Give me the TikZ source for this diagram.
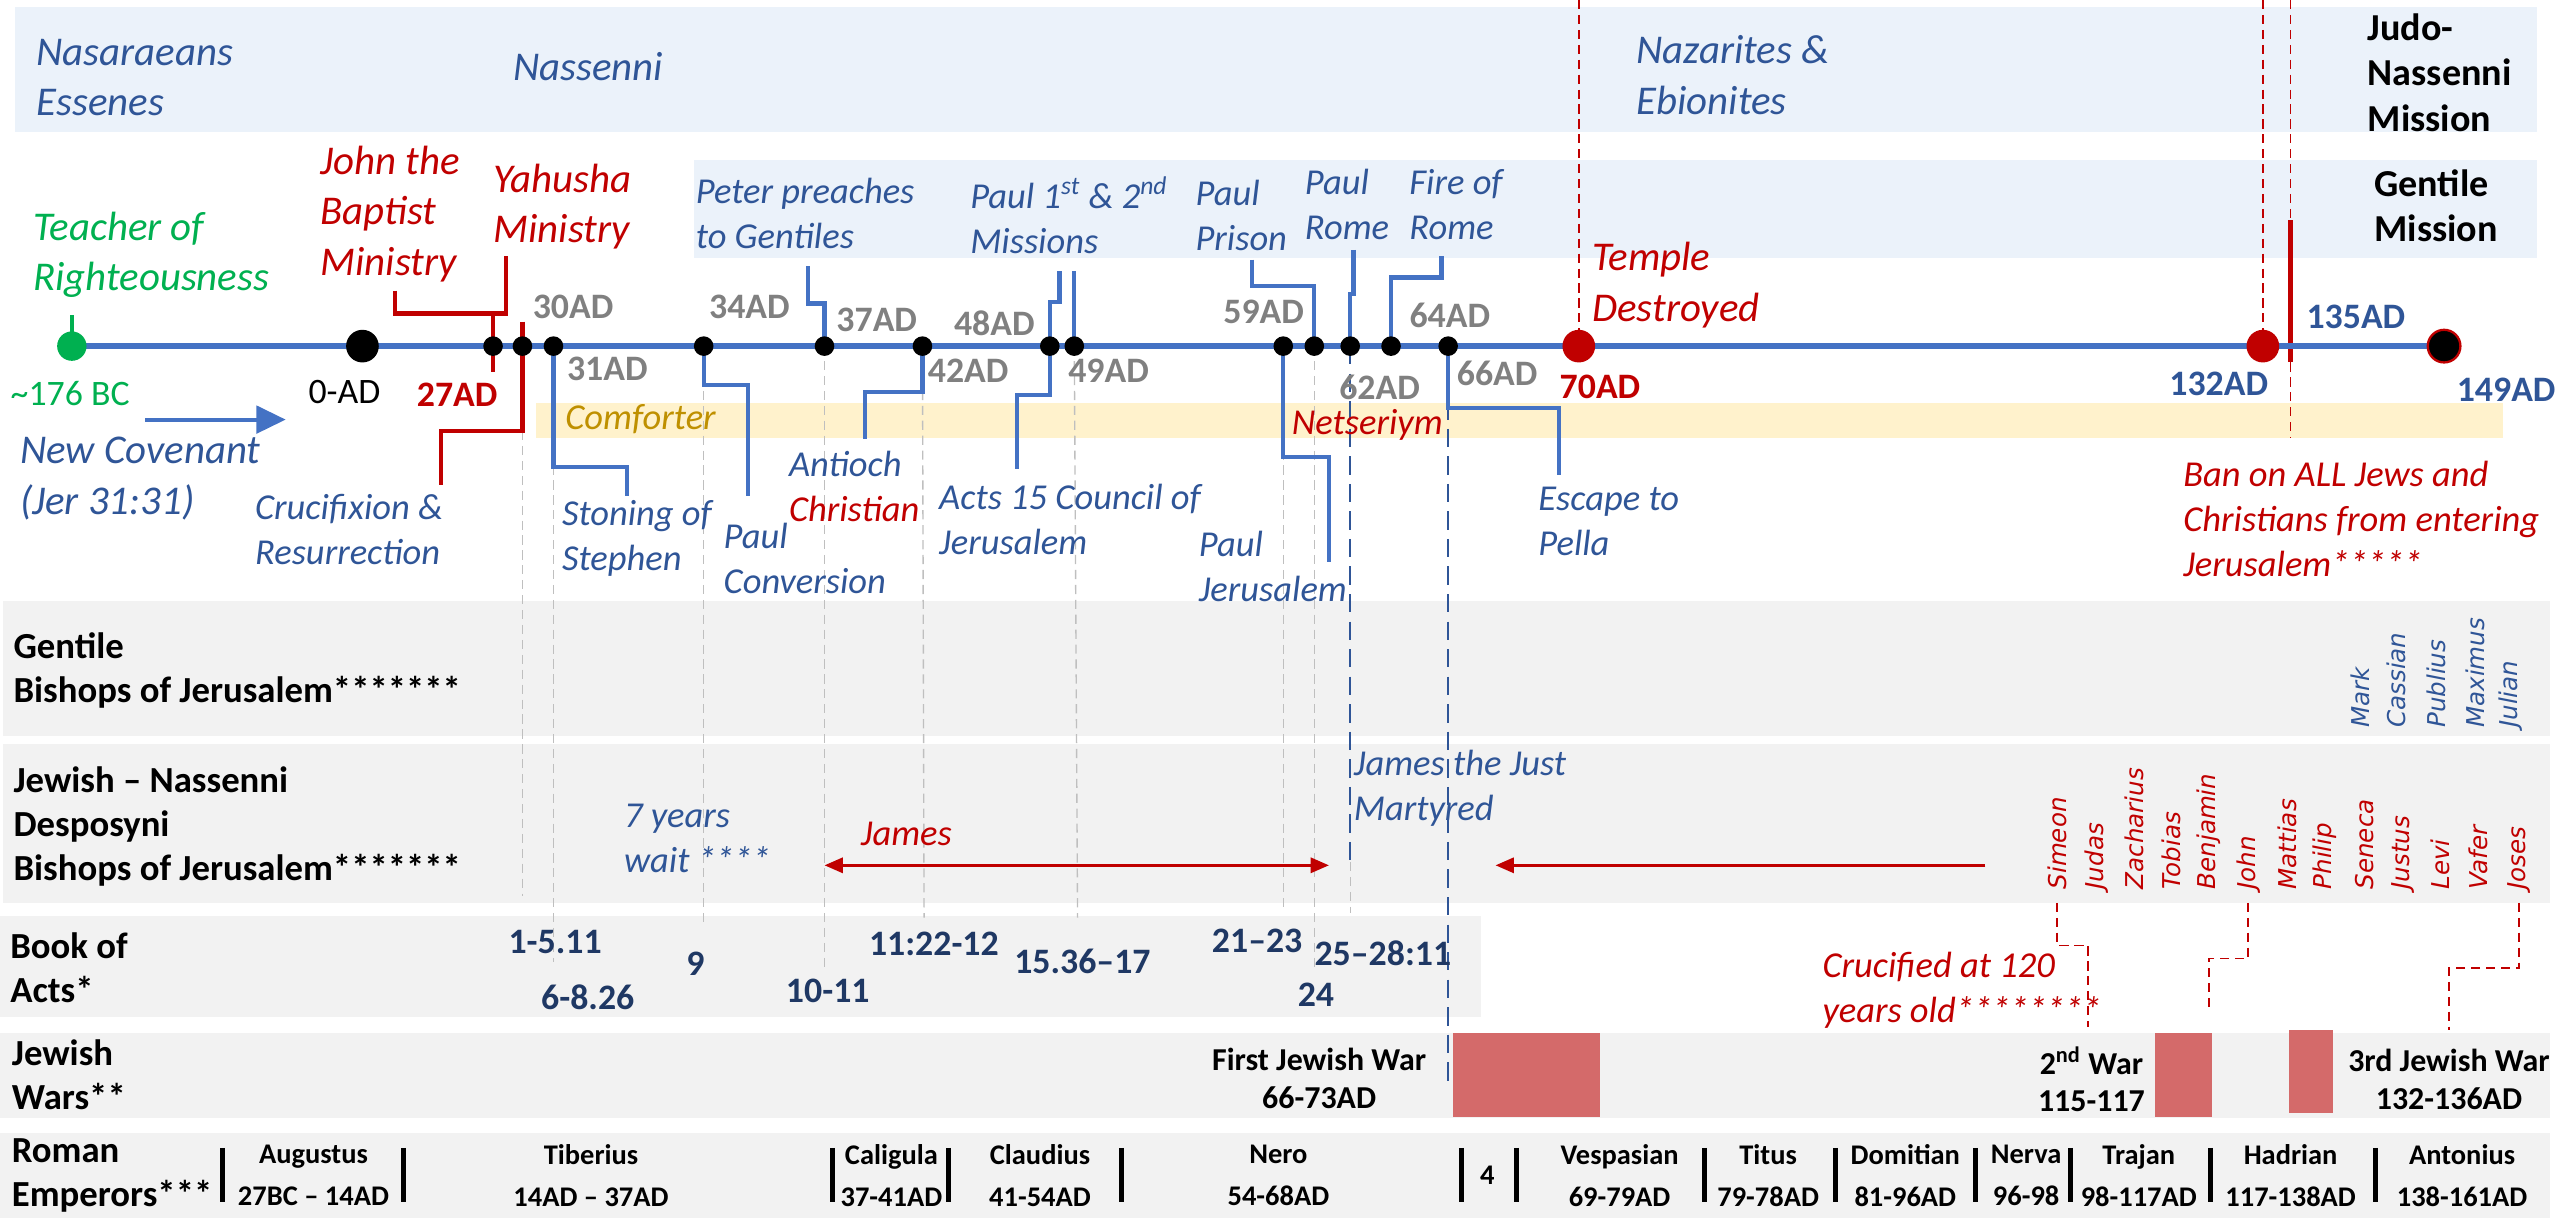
\documentclass[tikz,border=0pt]{standalone}
\usepackage{fontspec}
\setmainfont{Carlito}
\newfontfamily\namefont{DejaVu Sans}
\usetikzlibrary{arrows.meta}

\definecolor{tlblue}{HTML}{4472C4}
\definecolor{txblue}{HTML}{2F5597}
\definecolor{myred}{HTML}{C00000}
\definecolor{mygreen}{HTML}{00B050}
\definecolor{lblgray}{HTML}{808080}
\definecolor{bandblue}{HTML}{EBF2FA}
\definecolor{comfband}{HTML}{FFF2CC}
\definecolor{comftxt}{HTML}{BF9000}
\definecolor{rowgray}{HTML}{F2F2F2}
\definecolor{warred}{HTML}{D46A6A}
\definecolor{actsblue}{HTML}{1F3864}
\definecolor{dashgray}{HTML}{BFBFBF}

\newcommand\fntbig{\fontsize{17.8pt}{22pt}\selectfont\itshape}
\newcommand\fntmid{\fontsize{15.9pt}{19.6pt}\selectfont\itshape}
\newcommand\fntdot{\fontsize{15.6pt}{18pt}\selectfont\bfseries}
\newcommand\fntdotr{\fontsize{15.6pt}{18pt}\selectfont}
\newcommand\fntrow{\fontsize{16pt}{19.2pt}\selectfont\bfseries}
\newcommand\fntmiss{\fontsize{16.6pt}{19.7pt}\selectfont\bfseries}
\newcommand\fntwar{\fontsize{13.9pt}{16.4pt}\selectfont\bfseries}
\newcommand\fntemp{\fontsize{12.4pt}{18.5pt}\selectfont\bfseries}
\newcommand\fntname{\namefont\itshape\fontsize{10.7pt}{13pt}\selectfont}

\begin{document}
\begin{tikzpicture}[x=0.25mm, y=-0.25mm,
  txt/.style={inner sep=0pt, align=left, anchor=west},
  ctr/.style={inner sep=0pt, align=center},
  tdot/.style={circle, fill=black, minimum size=3mm, inner sep=0pt},
  bigdot/.style={circle, fill=#1, minimum size=5mm, inner sep=0pt},
  dlbl/.style={inner sep=0pt, font=\fntdot, text=lblgray},
  conn/.style={draw=tlblue, line width=1.9pt},
  redconn/.style={draw=myred, line width=1.9pt},
  gdash/.style={draw=dashgray, line width=0.6pt, dash pattern=on 4pt off 2.5pt},
  rdash/.style={draw=myred, line width=0.7pt, dash pattern=on 4pt off 2.5pt},
  bdash/.style={draw=txblue, line width=1pt, dash pattern=on 8pt off 4pt},
  redarrow/.style={draw=myred, line width=1.3pt},
  empsep/.style={draw=black, line width=2.2pt},
  bname/.style={inner sep=0pt, anchor=west, rotate=90, font=\fntname}]

\useasboundingbox (0,0) rectangle (1568,746);

% bands
\fill[bandblue] (9,4.5) rectangle (1554,81);
\fill[bandblue] (425,98) rectangle (1554,158);
\fill[comfband] (328,247) rectangle (1533,268);
\fill[rowgray] (2,368) rectangle (1562,451);
\fill[rowgray] (2,456) rectangle (1562,553);
\fill[rowgray] (0,561) rectangle (907,623);
\fill[rowgray] (0,633) rectangle (1562,685);
\fill[rowgray] (0,694) rectangle (1562,746);

% timeline points
\coordinate (pBC) at (44,212);
\coordinate (p0) at (222,212);
\coordinate (p27) at (302,212);
\coordinate (p30) at (320,212);
\coordinate (p31) at (339,212);
\coordinate (p34) at (431,212);
\coordinate (p37) at (505,212);
\coordinate (p42) at (565,212);
\coordinate (p48) at (643,212);
\coordinate (p49) at (658,212);
\coordinate (p59) at (786,212);
\coordinate (p60) at (805,212);
\coordinate (p62) at (827,212);
\coordinate (p63) at (852,212);
\coordinate (p64) at (887,212);
\coordinate (p70) at (967,212);
\coordinate (p132) at (1386,212);
\coordinate (p149) at (1497,212);

% guides
\coordinate (g30a) at (320,264);
\coordinate (g30) at (320,549);
\coordinate (g31) at (339,589);
\coordinate (g34) at (431,568);
\coordinate (g37) at (505,593);
\coordinate (g42) at (566,562);
\coordinate (g49) at (660,562);
\coordinate (g59) at (786,559);
\coordinate (g60) at (805,593);
\coordinate (g62a) at (827,528);
\coordinate (g62) at (827,559);
\coordinate (g64) at (887,666);
\draw[gdash] (g30a) -- (g30);
\draw[gdash] (p31) -- (g31);
\draw[gdash] (p34) -- (g34);
\draw[gdash] (p37) -- (g37);
\draw[gdash] (p42) -- (g42);
\draw[gdash] (p49) -- (g49);
\draw[gdash] (p59) -- (g59);
\draw[gdash] (p60) -- (g60);
\draw[gdash] (g62a) -- (g62);
\draw[bdash] (p62) -- (g62a);
\draw[bdash] (p64) -- (g64);

\coordinate (r70) at (967,0);
\coordinate (r132) at (1386,0);
\coordinate (r135a) at (1403,0);
\coordinate (r135b) at (1403,135);
\coordinate (r135c) at (1403,222);
\coordinate (r135d) at (1403,268);
\draw[rdash] (r70) -- (p70);
\draw[rdash] (r132) -- (p132);
\draw[rdash] (r135a) -- (r135b);
\draw[myred, line width=2.2pt] (r135b) -- (r135c);
\draw[rdash] (r135c) -- (r135d);

% timeline
\draw[tlblue, line width=2.6pt] (pBC) -- (p149);

% red connectors
\coordinate (jb) at (242,178);
\coordinate (ym) at (310,157);
\coordinate (jy) at (310,192);
\coordinate (r27) at (302,228);
\coordinate (cr0) at (320,197);
\coordinate (cr1) at (270,264);
\coordinate (cr2) at (270,297);
\draw[redconn] (jb) |- (jy) -- (ym);
\draw[redconn] (p27 |- jy) -- (r27);
\draw[redconn] (cr0) |- (cr1) -- (cr2);

% blue connectors
\coordinate (pp0) at (495,163);
\coordinate (pp1) at (505,186);
\coordinate (st1) at (384,286);
\coordinate (st2) at (384,304);
\coordinate (cv1) at (458,236);
\coordinate (cv2) at (458,304);
\coordinate (an1) at (530,240);
\coordinate (an2) at (530,269);
\coordinate (ac1) at (623,242);
\coordinate (ac2) at (623,287);
\coordinate (mi1) at (649,166);
\coordinate (mi2) at (643,185);
\coordinate (mi3) at (658,166);
\coordinate (pr1) at (767,159);
\coordinate (pr2) at (805,175);
\coordinate (pj1) at (814,280);
\coordinate (pj2) at (814,344);
\coordinate (ro1) at (829,153);
\coordinate (ro2) at (827,180);
\coordinate (fi1) at (883,157);
\coordinate (fi2) at (852,170);
\coordinate (pe1) at (955,250);
\coordinate (pe2) at (955,291);
\draw[conn] (pp0) |- (pp1) -- (p37);
\draw[conn] (p31) |- (st1) -- (st2);
\draw[conn] (p34) |- (cv1) -- (cv2);
\draw[conn] (p42) |- (an1) -- (an2);
\draw[conn] (p48) |- (ac1) -- (ac2);
\draw[conn] (mi1) |- (mi2) -- (p48);
\draw[conn] (mi3) -- (p49);
\draw[conn] (pr1) |- (pr2) -- (p60);
\draw[conn] (p59) |- (pj1) -- (pj2);
\draw[conn] (ro1) |- (ro2) -- (p62);
\draw[conn] (fi1) |- (fi2) -- (p63);
\draw[conn] (p64) |- (pe1) -- (pe2);

% dots
\draw[mygreen, line width=2pt] (pBC) -- ++(0,-19);
\node[bigdot=mygreen, minimum size=4.5mm] (dBC) at (pBC) {};
\node[bigdot=black] (d0) at (p0) {};
\node[tdot] (d27) at (p27) {};
\node[tdot] (d30) at (p30) {};
\node[tdot] (d31) at (p31) {};
\node[tdot] (d34) at (p34) {};
\node[tdot] (d37) at (p37) {};
\node[tdot] (d42) at (p42) {};
\node[tdot] (d48) at (p48) {};
\node[tdot] (d49) at (p49) {};
\node[tdot] (d59) at (p59) {};
\node[tdot] (d60) at (p60) {};
\node[tdot] (d62) at (p62) {};
\node[tdot] (d63) at (p63) {};
\node[tdot] (d64) at (p64) {};
\node[bigdot=myred] (d70) at (p70) {};
\node[bigdot=myred] (d132) at (p132) {};
\node[bigdot=black, draw=myred, line width=1pt] (d149) at (p149) {};

% dates
\node[dlbl] (l30) at (351,188) {30AD};
\node[dlbl] (l31) at (372,226) {31AD};
\node[dlbl] (l34) at (459,188) {34AD};
\node[dlbl] (l37) at (537,196) {37AD};
\node[dlbl] (l42) at (593,227) {42AD};
\node[dlbl] (l48) at (609,198) {48AD};
\node[dlbl] (l49) at (679,227) {49AD};
\node[dlbl] (l59) at (774,191) {59AD};
\node[dlbl] (l62) at (845,237) {62AD};
\node[dlbl] (l64) at (888,193) {64AD};
\node[dlbl] (l66) at (917,229) {66AD};
\node[dlbl, text=myred] (l70) at (980,237) {70AD};
\node[dlbl, text=myred] (l27) at (280,242) {27AD};
\node[inner sep=0pt, font=\fntdotr] (l0) at (211,240) {0-AD};
\node[inner sep=0pt, font=\fntdotr, text=mygreen] (lBC) at (43,241) {\textasciitilde176 BC};
\node[dlbl, text=txblue] (l132) at (1359,235) {132AD};
\node[dlbl, text=txblue] (l135) at (1443,194) {135AD};
\node[dlbl, text=txblue] (l149) at (1535,239) {149AD};

% top texts
\node[txt, font=\fntbig, text=txblue] (nasar) at (22,47.5) {Nasaraeans\\Essenes};
\node[txt, font=\fntbig, text=txblue] (nassenni) at (314,41) {Nassenni};
\node[txt, font=\fntbig, text=txblue] (nazar) at (1002,46) {Nazarites \&\\Ebionites};
\node[txt, font=\fntmiss] (judo) at (1450,44.5) {Judo-\\Nassenni\\Mission};
\node[txt, font=\fntmiss] (gmiss) at (1454,126) {Gentile\\Mission};

\node[txt, font=\fntbig, text=mygreen] (teacher) at (20,156) {Teacher of\\Righteousness};
\node[txt, font=\fntbig, text=myred] (john) at (196,131) {John the\\Baptist\\Ministry};
\node[txt, font=\fntbig, text=myred] (yahusha) at (302,126.5) {Yahusha\\Ministry};
\node[txt, font=\fntmid, text=txblue] (peter) at (426,130.5) {Peter preaches\\to Gentiles};
\node[txt, font=\fntmid, text=txblue] (missions) at (594,132) {Paul 1\textsuperscript{st} \& 2\textsuperscript{nd}\\Missions};
\node[txt, font=\fntmid, text=txblue] (prison) at (732,132) {Paul\\Prison};
\node[txt, font=\fntmid, text=txblue] (rome) at (799,125.5) {Paul\\Rome};
\node[txt, font=\fntmid, text=txblue] (fire) at (863,125.5) {Fire of\\Rome};
\node[txt, font=\fntbig, text=myred] (temple) at (975,174.5) {Temple\\Destroyed};

% lower texts
\node[txt, font=\fntbig, text=txblue] (covenant) at (12,293) {New Covenant\\(Jer 31:31)};
\node[txt, font=\fntmid, text=txblue] (crucif) at (156,324.5) {Crucifixion \&\\Resurrection};
\node[txt, font=\fntmid, text=txblue] (stoning) at (344,330) {Stoning of\\Stephen};
\node[txt, font=\fntmid, text=txblue] (convers) at (443,342) {Paul\\Conversion};
\node[txt, font=\fntmid, text=txblue] (antioch) at (483,298) {Antioch\\\textcolor{myred}{Christian}};
\node[txt, font=\fntmid, text=txblue] (council) at (575,318) {Acts 15 Council of\\Jerusalem};
\node[txt, font=\fntmid, text=txblue] (pauljer) at (734,347) {Paul\\Jerusalem};
\node[txt, font=\fntmid, text=txblue] (pella) at (942,319.5) {Escape to\\Pella};
\node[txt, font=\fntmid, text=myred] (ban) at (1337,318) {Ban on ALL Jews and\\Christians from entering\\Jerusalem*****};
\node[txt, font=\fntmid, text=comftxt] (comfort) at (346,257) {Comforter};
\node[txt, font=\fntmid, text=myred] (netser) at (791,260) {Netseriym};

\coordinate (nc1) at (89,257);
\coordinate (nc2) at (175,257);
\draw[tlblue, line width=1.8pt, -{Triangle[length=4.5mm, width=4.2mm]}] (nc1) -- (nc2);

% rows
\node[txt, font=\fntrow] (gbish) at (8,410.5) {Gentile\\Bishops of Jerusalem*******};
\node[txt, font=\fntrow] (jbish) at (8,506) {Jewish -- Nassenni\\Desposyni\\Bishops of Jerusalem*******};
\node[txt, font=\fntrow] (acts) at (6,593) {Book of\\Acts*};
\node[txt, font=\fntrow] (wars) at (7,658.5) {Jewish\\Wars**};
\node[txt, font=\fntrow] (emp) at (7,720) {Roman\\Emperors***};

% gentile bishops
\node[bname, text=txblue] (mark) at (1446,446) {Mark};
\node[bname, text=txblue] (cassian) at (1468,446) {Cassian};
\node[bname, text=txblue] (publius) at (1492,446) {Publius};
\node[bname, text=txblue] (maximus) at (1516,446) {Maximus};
\node[bname, text=txblue] (julian) at (1538,446) {Julian};

% jewish bishops
\node[bname, text=myred] (simeon) at (1260,545) {Simeon};
\node[bname, text=myred] (judas) at (1284,545) {Judas};
\node[bname, text=myred] (zachar) at (1307,545) {Zacharius};
\node[bname, text=myred] (tobias) at (1330,545) {Tobias};
\node[bname, text=myred] (benjam) at (1353,545) {Benjamin};
\node[bname, text=myred] (johnb) at (1377,545) {John};
\node[bname, text=myred] (mattias) at (1401,545) {Mattias};
\node[bname, text=myred] (philip) at (1424,545) {Philip};
\node[bname, text=myred] (seneca) at (1448,545) {Seneca};
\node[bname, text=myred] (justus) at (1472,545) {Justus};
\node[bname, text=myred] (levi) at (1495,545) {Levi};
\node[bname, text=myred] (vafer) at (1518,545) {Vafer};
\node[bname, text=myred] (joses) at (1543,545) {Joses};

\node[txt, font=\fntmid, text=txblue] (wait) at (382,513.5) {7 years\\wait ****};
\node[txt, font=\fntmid, text=myred] (james) at (527,511) {James};
\node[txt, font=\fntmid, text=txblue] (martyr) at (829,483) {James the Just\\Martyred};

\coordinate (ja1) at (505,530);
\coordinate (ja2) at (814,530);
\coordinate (jc1) at (1216,530);
\coordinate (jc2) at (916,530);
\draw[redarrow, {Triangle[length=2.8mm, width=2.3mm]}-{Triangle[length=2.8mm, width=2.3mm]}] (ja1) -- (ja2);
\draw[redarrow, -{Triangle[length=2.8mm, width=2.3mm]}] (jc1) -- (jc2);

% acts
\node[ctr, font=\fntdot, text=actsblue] (a1) at (340,577) {1-5.11};
\node[ctr, font=\fntdot, text=actsblue] (a2) at (360,611) {6-8.26};
\node[ctr, font=\fntdot, text=actsblue] (a3) at (426,590) {9};
\node[ctr, font=\fntdot, text=actsblue] (a4) at (507,607) {10-11};
\node[ctr, font=\fntdot, text=actsblue] (a5) at (572,578) {11:22-12};
\node[ctr, font=\fntdot, text=actsblue] (a6) at (663,589) {15.36--17};
\node[ctr, font=\fntdot, text=actsblue] (a7) at (770,576) {21--23};
\node[ctr, font=\fntdot, text=actsblue] (a8) at (806,609) {24};
\node[ctr, font=\fntdot, text=actsblue] (a9) at (847,584) {25--28:11};

% wars
\fill[warred] (890,633) rectangle (980,684);
\fill[warred] (1320,633) rectangle (1355,684);
\fill[warred] (1402,631) rectangle (1429,682);
\node[ctr, font=\fntwar] (war1) at (808,660.5) {First Jewish War\\66-73AD};
\node[ctr, font=\fntwar] (war2) at (1281,661) {2\textsuperscript{nd} War\\115-117};
\node[ctr, font=\fntwar] (war3) at (1500,661) {3rd Jewish War\\132-136AD};
\node[txt, font=\fntmid, text=myred] (crucified) at (1116,606.5) {Crucified at 120\\years old********};

\coordinate (sm1) at (1279,579);
\coordinate (sm2) at (1279,629);
\coordinate (jn1) at (1353,587);
\coordinate (jn2) at (1353,617);
\coordinate (js1) at (1500,593);
\coordinate (js2) at (1500,631);
\draw[rdash] ([yshift=-2mm]simeon.west) |- (sm1) -- (sm2);
\draw[rdash] ([yshift=-2mm]johnb.west) |- (jn1) -- (jn2);
\draw[rdash] ([yshift=-2mm]joses.west) |- (js1) -- (js2);

% emperors
\node[ctr, font=\fntemp] (aug) at (192,720) {Augustus\\27BC -- 14AD};
\node[ctr, font=\fntemp] (tib) at (362,720) {Tiberius\\14AD -- 37AD};
\node[ctr, font=\fntemp] (cal) at (546,720) {Caligula\\37-41AD};
\node[ctr, font=\fntemp] (cla) at (637,720) {Claudius\\41-54AD};
\node[ctr, font=\fntemp] (nero) at (783,720) {Nero\\54-68AD};
\node[ctr, font=\fntemp] (four) at (911,720) {4};
\node[ctr, font=\fntemp] (vesp) at (992,720) {Vespasian\\69-79AD};
\node[ctr, font=\fntemp] (titus) at (1083,720) {Titus\\79-78AD};
\node[ctr, font=\fntemp] (domit) at (1167,720) {Domitian\\81-96AD};
\node[ctr, font=\fntemp] (nerva) at (1241,720) {Nerva\\96-98};
\node[ctr, font=\fntemp] (trajan) at (1310,720) {Trajan\\98-117AD};
\node[ctr, font=\fntemp] (hadr) at (1403,720) {Hadrian\\117-138AD};
\node[ctr, font=\fntemp] (anton) at (1508,720) {Antonius\\138-161AD};

\draw[empsep] (136,703) -- (136,736);
\draw[empsep] (247,703) -- (247,736);
\draw[empsep] (510,703) -- (510,736);
\draw[empsep] (581,703) -- (581,736);
\draw[empsep] (687,703) -- (687,736);
\draw[empsep] (895,703) -- (895,736);
\draw[empsep] (929,703) -- (929,736);
\draw[empsep] (1044,703) -- (1044,736);
\draw[empsep] (1124,703) -- (1124,736);
\draw[empsep] (1210,703) -- (1210,736);
\draw[empsep] (1268,703) -- (1268,736);
\draw[empsep] (1354,703) -- (1354,736);
\draw[empsep] (1455,703) -- (1455,736);

\end{tikzpicture}
\end{document}
